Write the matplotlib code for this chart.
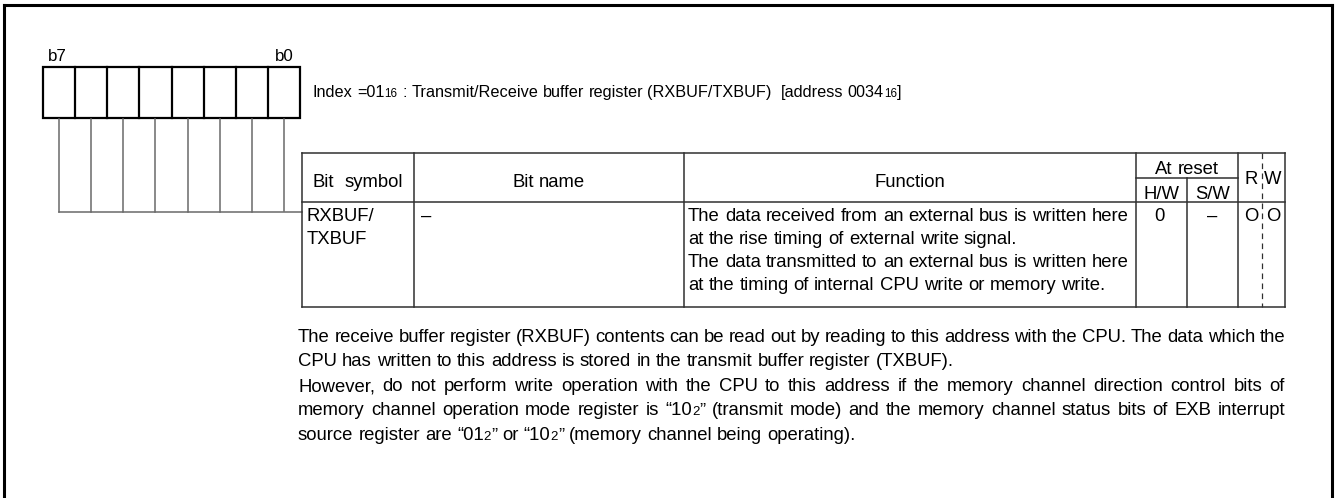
import matplotlib
matplotlib.use("Agg")
import matplotlib.pyplot as plt

plt.rcParams['font.family'] = ['Liberation Sans', 'DejaVu Sans']

# ---- content ----
bit_labels = ["b7", "b0"]
title_text = "Index =01{16} : Transmit/Receive buffer register (RXBUF/TXBUF)  [address 0034{16}]"
header_main = ["Bit  symbol", "Bit name", "Function"]
header_reset = "At reset"
header_reset_sub = ["H/W", "S/W"]
header_rw = ["R", "W"]
row_symbol = ["RXBUF/", "TXBUF"]
row_name = "–"
row_function = [
    "The data received from an external bus is written here",
    "at the rise timing of external write signal.",
    "The data transmitted to an external bus is written here",
    "at the timing of internal CPU write or memory write.",
]
row_reset = ["0", "–"]
row_rw = ["O", "O"]
para_lines = [
    "The receive buffer register (RXBUF) contents can be read out by reading to this address with the CPU. The data which the",
    "CPU has written to this address is stored in the transmit buffer register (TXBUF).",
    "However, do not perform write operation with the CPU to this address if the memory channel direction control bits of",
    "memory channel operation mode register is “10{2}” (transmit mode) and the memory channel status bits of EXB interrupt",
    "source register are “01{2}” or “10{2}” (memory channel being operating).",
]
para_justify = [True, False, True, True, False]

# ---- figure in pixel coordinates ----
W, H = 1335, 498
fig = plt.figure(figsize=(W / 100, H / 100), dpi=100)
ax = fig.add_axes([0, 0, 1, 1])
ax.set_xlim(0, W)
ax.set_ylim(H, 0)
ax.axis('off')
renderer = fig.canvas.get_renderer()

PT = 0.72
BODY = 18.5 * PT
TITLE = 16.2 * PT
LABEL = 17.0 * PT
SMALL_RATIO = 0.72


def parse(tok):
    runs, buf, small = [], "", False
    for ch in tok:
        if ch == "{":
            if buf:
                runs.append((buf, False))
            buf, small = "", True
        elif ch == "}":
            runs.append((buf, True))
            buf, small = "", False
        else:
            buf += ch
    if buf:
        runs.append((buf, small))
    return runs


_cache = {}


def text_w(s, size):
    key = (s, size)
    if key not in _cache:
        t = ax.text(0, 0, s, fontsize=size)
        _cache[key] = t.get_window_extent(renderer).width
        t.remove()
    return _cache[key]


def tok_w(tok, base):
    return sum(text_w(s, base * SMALL_RATIO if sm else base) for s, sm in parse(tok))


def draw_tok(x, y, tok, base):
    for s, sm in parse(tok):
        size = base * SMALL_RATIO if sm else base
        ax.text(x, y, s, fontsize=size, va='baseline', ha='left', color='black')
        x += text_w(s, size)
    return x


def space_w(base):
    return text_w("a a", base) - text_w("aa", base)


def draw_line(x, y, text, width=None, base=BODY):
    toks = text.split(" ")
    if width is not None and len(toks) > 1:
        gap = (width - sum(tok_w(t, base) for t in toks)) / (len(toks) - 1)
    else:
        gap = space_w(base)
    for t in toks:
        if t:
            x = draw_tok(x, y, t, base)
        x += gap


def line_w(text, base=BODY):
    toks = text.split(" ")
    return sum(tok_w(t, base) for t in toks) + space_w(base) * (len(toks) - 1)


def draw_center(xc, y, text, base=BODY):
    draw_line(xc - line_w(text, base) / 2, y, text, base=base)


def seg(x0, y0, x1, y1, color='black', lw=1.0, ls='-'):
    ax.plot([x0, x1], [y0, y1], color=color, lw=lw, ls=ls,
            solid_capstyle='projecting', dash_capstyle='butt')


# outer frame (open at bottom)
FR_L, FR_R, FR_T = 4, 1332, 5
seg(FR_L, FR_T, FR_R, FR_T, lw=2.2)
seg(FR_L, FR_T, FR_L, H + 5, lw=2.2)
seg(FR_R, FR_T, FR_R, H + 5, lw=2.2)

# register box
RB_L, RB_R, RB_T, RB_B = 43, 300, 67, 118
cw = (RB_R - RB_L) / 8
ax.add_patch(plt.Rectangle((RB_L, RB_T), RB_R - RB_L, RB_B - RB_T, fill=False,
                           ec='black', lw=1.6))
for i in range(1, 8):
    seg(RB_L + i * cw, RB_T, RB_L + i * cw, RB_B, lw=1.6)
ax.text(48, 61, bit_labels[0], fontsize=LABEL, va='baseline', ha='left')
ax.text(275, 61, bit_labels[1], fontsize=LABEL, va='baseline', ha='left')

# lead lines
LEAD_Y = 212
T_L = 302
for i in range(8):
    xc = RB_L + (i + 0.5) * cw
    seg(xc, RB_B + 1, xc, LEAD_Y if i < 7 else LEAD_Y - 1, color='#6a6a6a', lw=1.1)
seg(RB_L + 0.5 * cw, LEAD_Y, T_L, LEAD_Y, color='#6a6a6a', lw=1.1)

# title
draw_line(313, 97, title_text, base=TITLE)

# table
T_R, T_T, T_H, T_B = 1285, 153, 202, 307
cols = [T_L, 414, 684, 1136, 1187, 1238, 1262, T_R]
SUB_Y = 178
TC = '#303030'
TLW = 1.1
seg(T_L, T_T, T_R, T_T, TC, TLW)
seg(T_L, T_H, T_R, T_H, TC, TLW)
seg(T_L, T_B, T_R, T_B, TC, TLW)
seg(cols[3], SUB_Y, cols[5], SUB_Y, TC, TLW)
for i, cx in enumerate(cols):
    if i == 4:
        seg(cx, SUB_Y, cx, T_B, TC, TLW)
    elif i == 6:
        seg(cx, T_T, cx, T_B, TC, 0.9, ls=(0, (4.5, 3.5)))
    else:
        seg(cx, T_T, cx, T_B, TC, TLW)

# header text
for k in range(3):
    draw_center((cols[k] + cols[k + 1]) / 2, 187, header_main[k])
draw_center((cols[3] + cols[5]) / 2, 174, header_reset)
draw_center((cols[3] + cols[4]) / 2, 199, header_reset_sub[0])
draw_center((cols[4] + cols[5]) / 2, 199, header_reset_sub[1])
draw_center(1251, 184, header_rw[0])
draw_center(1273, 184, header_rw[1])

# data row
ROW_BASE = [221, 244, 267, 290]
for j, s in enumerate(row_symbol):
    draw_line(307, ROW_BASE[j], s)
draw_line(421, ROW_BASE[0], row_name)
for j, s in enumerate(row_function):
    draw_line(688, ROW_BASE[j], s)
draw_center((cols[3] + cols[4]) / 2 - 2, ROW_BASE[0], row_reset[0])
draw_center((cols[4] + cols[5]) / 2, ROW_BASE[0], row_reset[1])
draw_center(1251, ROW_BASE[0], row_rw[0])
draw_center(1273, ROW_BASE[0], row_rw[1])

# paragraph
P_L, P_R = 298, 1285
P_BASE = [342, 366, 391, 415, 440]
for j, (s, jus) in enumerate(zip(para_lines, para_justify)):
    draw_line(P_L, P_BASE[j], s, width=(P_R - P_L) if jus else None)

fig.savefig("out.png", dpi=100)
